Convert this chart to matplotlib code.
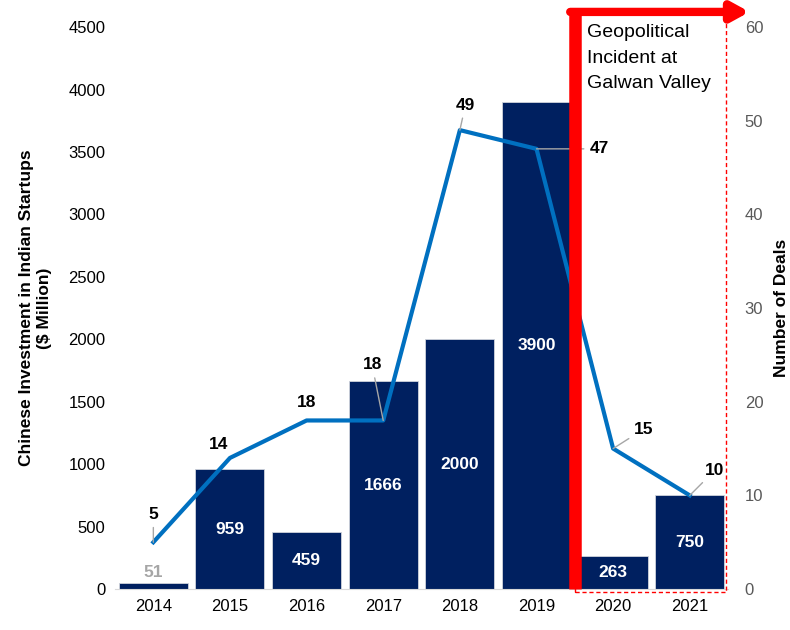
import matplotlib.pyplot as plt
from matplotlib.patches import Rectangle

plt.rcParams['font.family'] = ['Liberation Sans', 'DejaVu Sans']

years = ['2014', '2015', '2016', '2017', '2018', '2019', '2020', '2021']
investment = [51, 959, 459, 1666, 2000, 3900, 263, 750]
deals = [5, 14, 18, 18, 49, 47, 15, 10]

# label offsets (points) for the deal counts, with a leader line when set
deal_offsets = [(0, 20, True), (-8, 10, False), (0, 13, False), (-8, 40, True),
                (4, 18, True), (45, 0, True), (22, 14, True), (18, 18, True)]

bar_color = '#002060'
line_color = '#0070C0'

fig = plt.figure(figsize=(7.9, 6.3), dpi=100)
ax = fig.add_axes([0.1456, 0.065, 0.776, 0.892])
x = list(range(len(years)))

bars = ax.bar(x, investment, width=0.9, color=bar_color, edgecolor='#d0d4dc',
              linewidth=0.6, zorder=2)
for xi, v in zip(x, investment):
    if v < 150:
        ax.text(xi, v + 20, str(v), ha='center', va='bottom', color='#a6a6a6',
                fontsize=12.5, fontweight='bold')
    else:
        ax.text(xi, v / 2, str(v), ha='center', va='center', color='white',
                fontsize=12.5, fontweight='bold', zorder=3)

ax.set_xlim(-0.5, 7.5)
ax.set_ylim(0, 4500)
ax.set_yticks(range(0, 4501, 500))
ax.set_xticks(x)
ax.set_xticklabels(years)
ax.set_ylabel('Chinese Investment in Indian Startups\n($ Million)',
              fontsize=12.5, fontweight='bold', labelpad=12)
for s in ['top', 'right', 'left']:
    ax.spines[s].set_visible(False)
ax.spines['bottom'].set_color('#d9d9d9')
ax.tick_params(axis='both', length=0, labelsize=12, colors='black', pad=7)

ax2 = ax.twinx()
ax2.plot(x, deals, color=line_color, linewidth=3, zorder=4)
ax2.set_ylim(0, 60)
ax2.set_yticks(range(0, 61, 10))
ax2.set_ylabel('Number of Deals', fontsize=12.5, fontweight='bold', labelpad=8)
for s in ax2.spines.values():
    s.set_visible(False)
ax2.tick_params(axis='y', length=0, labelsize=12, colors='#595959', pad=12)

for xi, d, (dx, dy, lead) in zip(x, deals, deal_offsets):
    props = dict(arrowstyle='-', color='#a6a6a6', lw=1, shrinkA=2, shrinkB=0) if lead else None
    ax2.annotate(str(d), (xi, d), xytext=(dx, dy), textcoords='offset points',
                 ha='center', va='center', fontsize=12.5, fontweight='bold',
                 arrowprops=props, zorder=5)

# marker for the Galwan Valley incident
trans = ax2.get_xaxis_transform()
ax2.add_patch(Rectangle((5.5, -0.006), 1.97, 1.033, transform=trans, fill=False,
                        edgecolor='red', linestyle=(0, (3, 2)), linewidth=1,
                        clip_on=False, zorder=6))
ax2.plot([5.5, 5.5], [0, 1.027], transform=trans, color='red', linewidth=9,
         solid_capstyle='butt', clip_on=False, zorder=7)
ax2.annotate('', xy=(7.78, 1.027), xytext=(5.44, 1.027), xycoords=trans,
             textcoords=trans,
             arrowprops=dict(arrowstyle='-|>,head_length=1.0,head_width=0.55',
                             color='red', lw=6, shrinkA=0, shrinkB=0),
             annotation_clip=False, zorder=7)
ax2.text(5.66, 1.005, 'Geopolitical\nIncident at\nGalwan Valley', transform=trans,
         ha='left', va='top', fontsize=14, linespacing=1.65,
         bbox=dict(facecolor='white', edgecolor='none', pad=2), zorder=6)

fig.savefig('out.png', dpi=100)
